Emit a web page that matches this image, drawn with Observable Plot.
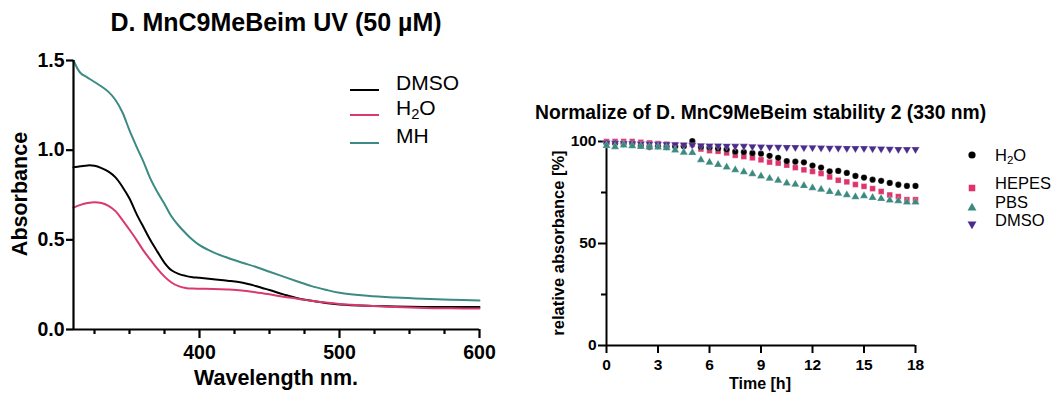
<!DOCTYPE html>
<html>
<head>
<meta charset="utf-8">
<script src="https://cdn.jsdelivr.net/npm/d3@7"></script>
<script src="https://cdn.jsdelivr.net/npm/@observablehq/plot@0.6"></script>
<style>
  html, body { margin: 0; padding: 0; background: #fff; }
  #root { position: relative; width: 1056px; height: 394px; overflow: hidden;
          font-family: "Liberation Sans", Arial, Helvetica, sans-serif; color: #000; }
  .abs { position: absolute; white-space: nowrap; }
  sub { font-size: 0.7em; vertical-align: -0.3em; line-height: 0; }
</style>
</head>
<body>
<div id="root"></div>
<script>
// ---------- Left chart: UV spectra ----------
const wavelengths = [310, 315, 320, 325, 330, 335, 340, 345, 350, 355, 360, 365, 370, 375, 380, 385, 390, 395, 400, 410, 420, 430, 440, 450, 460, 470, 480, 490, 500, 520, 540, 560, 580, 600];
const absDMSO = [0.905, 0.91, 0.915, 0.913, 0.90, 0.88, 0.848, 0.795, 0.73, 0.645, 0.57, 0.497, 0.433, 0.372, 0.33, 0.31, 0.299, 0.292, 0.288, 0.280, 0.272, 0.262, 0.243, 0.220, 0.196, 0.174, 0.160, 0.148, 0.140, 0.132, 0.128, 0.126, 0.125, 0.125];
const absH2O  = [0.68, 0.695, 0.705, 0.71, 0.705, 0.69, 0.66, 0.61, 0.556, 0.50, 0.44, 0.388, 0.338, 0.295, 0.262, 0.242, 0.232, 0.228, 0.227, 0.226, 0.223, 0.218, 0.208, 0.196, 0.183, 0.172, 0.160, 0.150, 0.142, 0.132, 0.125, 0.120, 0.118, 0.117];
const absMH   = [1.5, 1.43, 1.405, 1.38, 1.355, 1.325, 1.28, 1.21, 1.11, 1.02, 0.935, 0.84, 0.765, 0.70, 0.63, 0.58, 0.538, 0.50, 0.47, 0.43, 0.40, 0.374, 0.35, 0.322, 0.295, 0.268, 0.242, 0.222, 0.205, 0.188, 0.178, 0.171, 0.166, 0.162];
const spectraSeries = ["DMSO", "H2O", "MH"];
const spectraColors = ["#000000", "#d93a6c", "#3b8a84"];
const leftYTicks = [0, 0.5, 1.0, 1.5];
const leftXTicks = [400, 500, 600];
const leftXMinor = [325, 350, 375, 425, 450, 475, 525, 550, 575];

// ---------- Right chart: stability ----------
const times = [0, 0.5, 1, 1.5, 2, 2.5, 3, 3.5, 4, 4.5, 5, 5.5, 6, 6.5, 7, 7.5, 8, 8.5, 9, 9.5, 10, 10.5, 11, 11.5, 12, 12.5, 13, 13.5, 14, 14.5, 15, 15.5, 16, 16.5, 17, 17.5, 18];
const relH2O   = [99.2, 99.1, 99.0, 99.0, 97.8, 97.3, 97.7, 97.3, 97.6, 97.7, 100.2, 97.3, 97.0, 96.6, 96.1, 95.0, 94.8, 94.3, 94.0, 93.0, 92.0, 90.4, 90.1, 89.8, 88.2, 87.2, 85.4, 85.6, 84.6, 83.1, 82.3, 81.3, 80.7, 79.7, 78.8, 78.2, 78.2];
const relHEPES = [100, 100, 100, 100, 99.6, 99.3, 99.0, 98.7, 98.4, 98.1, 98.6, 96.3, 95.5, 95.2, 94.4, 93.2, 92.6, 92.0, 91.0, 89.9, 89.4, 88.4, 87.2, 86.1, 85.3, 84.3, 82.6, 81.0, 80.2, 78.9, 78.0, 76.9, 75.5, 73.8, 73.0, 71.5, 71.5];
const relPBS   = [98.0, 97.4, 98.2, 97.8, 97.5, 97.2, 97.2, 96.8, 95.8, 94.6, 94.5, 91.0, 89.8, 88.7, 87.4, 86.1, 85.1, 84.1, 83.0, 81.9, 80.9, 79.6, 79.0, 78.3, 77.3, 76.5, 75.4, 74.6, 73.8, 72.8, 73.3, 72.5, 72.0, 71.2, 70.9, 70.2, 70.2];
const relDMSO  = [99.3, 99.2, 99.1, 99.0, 98.9, 98.8, 98.7, 98.6, 98.5, 98.4, 98.2, 98.0, 97.9, 97.9, 97.8, 97.7, 97.7, 97.5, 97.4, 97.3, 97.3, 97.2, 97.1, 97.0, 97.0, 96.9, 96.8, 96.8, 96.7, 96.6, 96.6, 96.5, 96.4, 96.3, 96.2, 96.1, 96.1];
const stabSeries = ["H2O", "HEPES", "PBS", "DMSO"];
const stabColors = ["#000000", "#e0336b", "#3b8a80", "#4a2c8c"];
const stabSymbols = ["circle", "square", "triangle", "triangle"];
const stabRotate = [0, 0, 0, 180];
const stabRadius = [3.6, 3.7, 3.3, 3.3];
const rightYTicks = [0, 50, 100];
const rightYMinor = [25, 75];
const rightXTicks = [0, 3, 6, 9, 12, 15, 18];

const FONT = '"Liberation Sans", Arial, Helvetica, sans-serif';
const root = document.getElementById("root");

function place(el, left, top) {
  el.style.position = "absolute";
  el.style.left = left + "px";
  el.style.top = top + "px";
  root.appendChild(el);
  return el;
}
function text(html, left, top, css) {
  const d = document.createElement("div");
  d.className = "abs";
  d.innerHTML = html;
  Object.assign(d.style, css || {});
  return place(d, left, top);
}

// tidy tables
const spectra = [];
[absDMSO, absH2O, absMH].forEach((vals, i) => {
  vals.forEach((v, j) => spectra.push({series: spectraSeries[i], wl: wavelengths[j], a: v}));
});
const stab = [];
// draw order: DMSO, PBS, HEPES, H2O (H2O on top)
[3, 2, 1, 0].forEach(i => {
  const vals = [relH2O, relHEPES, relPBS, relDMSO][i];
  vals.forEach((v, j) => stab.push({series: stabSeries[i], idx: i, t: times[j], v}));
});

// ---------- Left plot ----------
const leftPlot = Plot.plot({
  width: 500, height: 394,
  marginLeft: 73, marginRight: 21, marginTop: 60, marginBottom: 65,
  x: {domain: [310, 600]},
  y: {domain: [0, 1.5]},
  color: {domain: spectraSeries, range: spectraColors},
  style: {fontFamily: FONT, fontSize: "19.5px", fontWeight: "bold", color: "#000", background: "transparent", overflow: "visible"},
  marks: [
    Plot.line(spectra, {x: "wl", y: "a", z: "series", stroke: "series", strokeWidth: 2, curve: "catmull-rom"}),
    Plot.ruleX([310], {strokeWidth: 2.2}),
    Plot.ruleY([0], {strokeWidth: 2.2}),
    Plot.axisY({ticks: leftYTicks, tickSize: 7, tickPadding: 2, tickFormat: d3.format(".1f"), label: null, strokeWidth: 2.2}),
    Plot.axisX({ticks: leftXTicks, tickSize: 9, tickPadding: 7, tickFormat: d3.format("d"), label: null, strokeWidth: 2.2}),
    Plot.axisX({ticks: leftXMinor, tickSize: 5, tickFormat: () => "", label: null, strokeWidth: 2.2})
  ]
});
place(leftPlot, 0, 0);

// ---------- Right plot ----------
const rightPlot = Plot.plot({
  width: 536, height: 304,
  marginLeft: 86, marginRight: 141, marginTop: 51, marginBottom: 49,
  x: {domain: [0, 18]},
  y: {domain: [0, 100]},
  color: {domain: stabSeries, range: stabColors},
  symbol: {domain: stabSeries, range: stabSymbols},
  style: {fontFamily: FONT, fontSize: "15.5px", fontWeight: "bold", color: "#000", background: "transparent", overflow: "visible"},
  marks: [
    Plot.ruleX([0], {strokeWidth: 2}),
    Plot.ruleY([0], {strokeWidth: 2}),
    Plot.axisY({ticks: rightYTicks, tickSize: 8, tickPadding: 2, label: null, strokeWidth: 2}),
    Plot.axisY({ticks: rightYMinor, tickSize: 5, tickFormat: () => "", label: null, strokeWidth: 2}),
    Plot.axisX({ticks: rightXTicks, tickSize: 8, tickPadding: 5, label: null, strokeWidth: 2}),
    Plot.dot(stab, {x: "t", y: "v", fill: "series", symbol: "series",
      r: d => stabRadius[d.idx], rotate: d => stabRotate[d.idx], stroke: "white", strokeWidth: 0.4, strokeOpacity: 0.6})
  ]
});
place(rightPlot, 520, 90);

// ---------- Left texts ----------
text("D. MnC9MeBeim UV (50 µM)", 276, 8, {fontSize: "25px", fontWeight: "bold", transform: "translateX(-50%)"});
text("Wavelength nm.", 276, 366, {fontSize: "21.5px", fontWeight: "bold", transform: "translateX(-50%)"});
text("Absorbance", 21, 194, {fontSize: "21.5px", fontWeight: "bold", transform: "translate(-50%, -50%) rotate(-90deg)", lineHeight: "1"});

// left legend
const leftLegendLabels = ["DMSO", "H<sub>2</sub>O", "MH"];
const leftLegendY = [90, 115, 143];
spectraSeries.forEach((s, i) => {
  const ln = document.createElement("div");
  Object.assign(ln.style, {width: "29px", height: "0px", borderTop: `2.2px solid ${spectraColors[i]}`});
  place(ln, 350, leftLegendY[i] - 1);
  text(leftLegendLabels[i], 396, leftLegendY[i] - 19, {fontSize: "21px", lineHeight: "24px"});
});

// ---------- Right texts ----------
text("Normalize of D. MnC9MeBeim stability 2 (330 nm)", 535, 101, {fontSize: "19.3px", fontWeight: "bold", lineHeight: "24px"});
text("Time [h]", 760, 374, {fontSize: "16px", fontWeight: "bold", transform: "translateX(-50%)", lineHeight: "19px"});
text("relative absorbance [%]", 558, 243, {fontSize: "16.5px", fontWeight: "bold", transform: "translate(-50%, -50%) rotate(-90deg)", lineHeight: "1"});

// right legend
const rightLegendLabels = ["H<sub>2</sub>O", "HEPES", "PBS", "DMSO"];
const rightLegendTextY = [155, 183, 202, 220];
const rightLegendMarkY = [155, 188, 208, 224];
stabSeries.forEach((s, i) => {
  const svg = d3.create("svg").attr("width", 16).attr("height", 16);
  const r = stabRadius[i];
  const type = [d3.symbolCircle, d3.symbolSquare, d3.symbolTriangle, d3.symbolTriangle][i];
  svg.append("path")
    .attr("d", d3.symbol(type, Math.PI * r * r)())
    .attr("transform", `translate(8,8) rotate(${stabRotate[i]})`)
    .attr("fill", stabColors[i]);
  place(svg.node(), 972 - 8, rightLegendMarkY[i] - 8);
  text(rightLegendLabels[i], 995, rightLegendTextY[i] - 10, {fontSize: "16.5px", lineHeight: "20px"});
});
</script>
</body>
</html>
